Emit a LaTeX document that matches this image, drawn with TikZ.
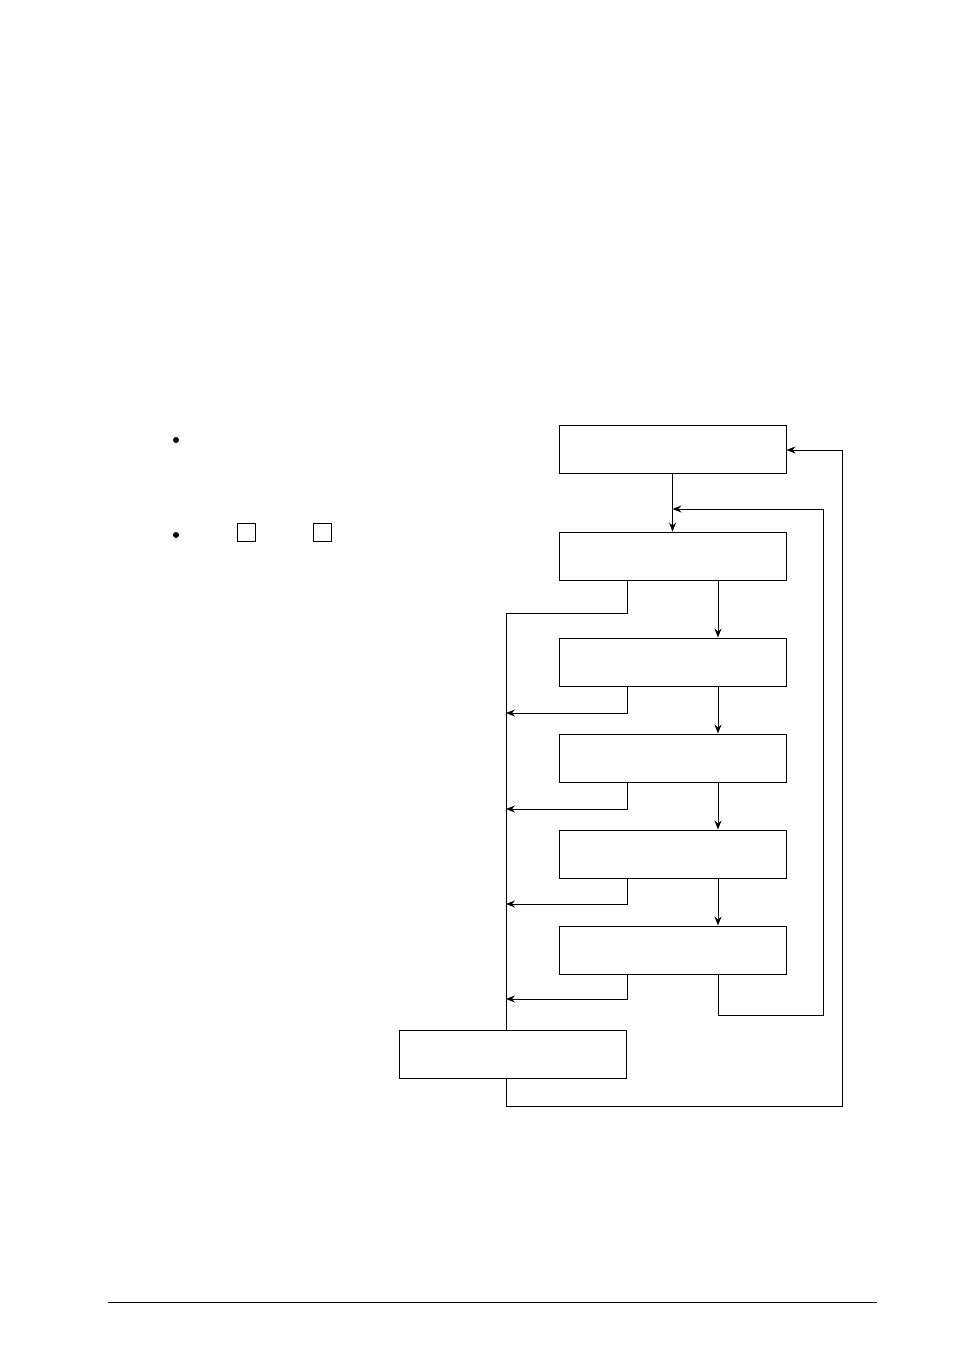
\documentclass[tikz,border=0pt]{standalone}
\usetikzlibrary{arrows.meta}
\begin{document}
\begin{tikzpicture}[x=1pt,y=-1pt,
  box/.style={draw,line width=0.9pt,minimum width=227pt,minimum height=48pt,inner sep=0pt},
  sq/.style={draw,line width=0.9pt,minimum size=18pt,inner sep=0pt},
  ln/.style={line width=0.9pt},
  arr/.style={line width=0.9pt,-{Stealth[length=9pt,width=7pt,inset=3pt]}}]
\useasboundingbox (0,0) rectangle (954,1351);
% boxes
\node[box] (b1) at (672.5,449) {};
\node[box] (b2) at (672.5,556) {};
\node[box] (b3) at (672.5,662) {};
\node[box] (b4) at (672.5,758) {};
\node[box] (b5) at (672.5,854) {};
\node[box] (b6) at (672.5,950) {};
\node[box] (b7) at (512.5,1054) {};
% bullets and small squares
\fill (176,440) circle (3pt);
\fill (176,535) circle (3pt);
\node[sq] (s1) at (246.5,532) {};
\node[sq] (s2) at (322.5,532) {};
% coordinates
\coordinate (j1) at (672.5,509);
\coordinate (fb1) at (823,509);
\coordinate (fb2) at (823,1015);
\coordinate (bus0) at (506,613);
\coordinate (bus3) at (506,713);
\coordinate (bus4) at (506,809);
\coordinate (bus5) at (506,904);
\coordinate (bus6) at (506,999);
\coordinate (bust) at (506,1030);
\coordinate (busb) at (506,1078);
\coordinate (rb) at (842,1106);
\coordinate (rt) at (842,450);
% main chain
\draw[arr] (b1.south) -- (b2.north);
\draw[arr] ([xshift=45.5pt]b2.south) -- ([xshift=45.5pt]b3.north);
\draw[arr] ([xshift=45.5pt]b3.south) -- ([xshift=45.5pt]b4.north);
\draw[arr] ([xshift=45.5pt]b4.south) -- ([xshift=45.5pt]b5.north);
\draw[arr] ([xshift=45.5pt]b5.south) -- ([xshift=45.5pt]b6.north);
% inner feedback loop
\draw[arr] ([xshift=45.5pt]b6.south) |- (fb2) -- (fb1) -- (j1);
% left bus
\draw[ln] ([xshift=-45.5pt]b2.south) |- (bus0) -- (bust);
\draw[arr] ([xshift=-45.5pt]b3.south) |- (bus3);
\draw[arr] ([xshift=-45.5pt]b4.south) |- (bus4);
\draw[arr] ([xshift=-45.5pt]b5.south) |- (bus5);
\draw[arr] ([xshift=-45.5pt]b6.south) |- (bus6);
% outer feedback
\draw[arr] (busb) |- (rb) -- (rt) -- (b1.east |- rt);
% footer rule
\draw[line width=0.9pt] (108,1302) -- (877,1302);
\end{tikzpicture}
\end{document}
